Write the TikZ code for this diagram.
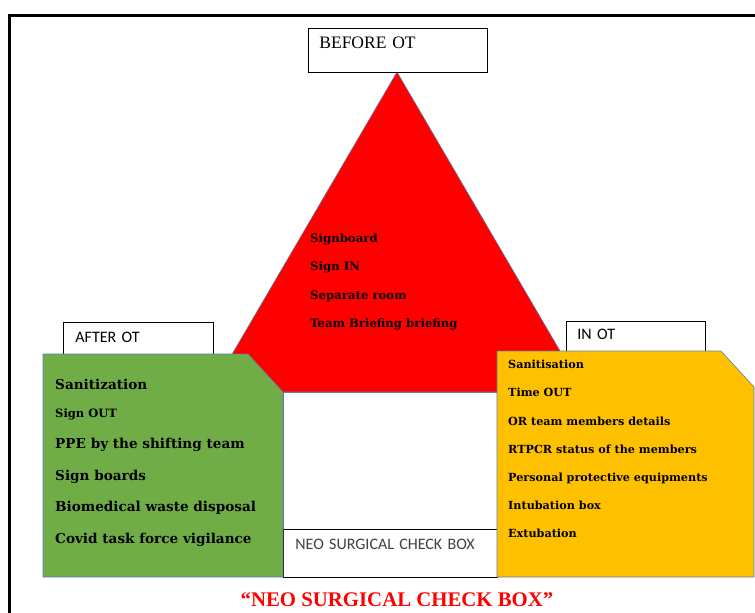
\documentclass[tikz,border=0pt]{standalone}
\usepackage{fontspec}
\setmainfont{Liberation Serif}
\newfontfamily\itemfont{DejaVu Serif}
\newfontfamily\calibri{Carlito}
\usetikzlibrary{positioning}
\definecolor{otred}{HTML}{FF0000}
\definecolor{otgreen}{HTML}{70AD47}
\definecolor{otyellow}{HTML}{FFC000}
\definecolor{otedge}{HTML}{5B7FA6}
\definecolor{otgrey}{HTML}{404040}

\begin{document}
\begin{tikzpicture}[x=1pt,y=-1pt,
  labelbox/.style={draw=black, fill=white, line width=0.8pt, anchor=north west,
    inner ysep=0pt, align=left},
  item/.style={anchor=base west, inner sep=0pt, font=\itemfont\bfseries\fontsize{#1}{#1}\selectfont},
  item/.default=11.7,
  shapeedge/.style={draw=otedge, line width=0.6pt}]
  \useasboundingbox (0,0) rectangle (755,613);
  \clip (0,0) rectangle (755,613);

  % Cornice
  \draw[line width=3pt] (9,640) -- (9,15) -- (790,15);

  % Triangolo e riquadro centrale
  \coordinate (apex) at (397,72);
  \coordinate (baseL) at (210,392);
  \coordinate (baseR) at (584,392);
  \filldraw[shapeedge, fill=otred] (apex) -- (baseR) -- (baseL) -- cycle;
  \filldraw[shapeedge, fill=white] (283,392) rectangle (497,577);

  % Etichette
  \node[labelbox, font=\rmfamily\fontsize{17.5}{17.5}\selectfont, inner xsep=11pt, text width=157pt,
    text height=20pt, text depth=24pt] (before) at (308,28) {BEFORE OT};
  \node[labelbox, font=\calibri\fontsize{16}{16}\selectfont, inner xsep=12pt, text width=126pt,
    text height=20pt, text depth=16pt] (after) at (63,322) {AFTER OT};
  \node[labelbox, font=\calibri\fontsize{16}{16}\selectfont, inner xsep=11pt, text width=117pt,
    text height=18pt, text depth=12pt] (inot) at (566,321) {IN OT};
  \node[labelbox, font=\calibri\fontsize{16}{16}\selectfont, text=otgrey, inner xsep=12pt,
    text width=190pt, text height=20pt, text depth=28pt] (neo) at (283,529) {NEO SURGICAL CHECK BOX};

  % Riquadri verde e giallo
  \filldraw[shapeedge, fill=otgreen]
    (43,354) -- (248,354) -- (283,392) -- (283,577) -- (43,577) -- cycle;
  \filldraw[shapeedge, fill=otyellow]
    (497,351) -- (721,351) -- (754,387) -- (754,577) -- (497,577) -- cycle;

  % Prima dell'OT
  \node[item] (signboard) at (310,242) {Signboard};
  \node[item] (signin) at (310,270) {Sign IN};
  \node[item] (room) at (310,299) {Separate room};
  \node[item] (briefing) at (310,327) {Team Briefing briefing};

  % Dopo l'OT
  \node[item=13.6] (sanitization) at (55,389) {Sanitization};
  \node[item=11.5] (signout) at (55,417) {Sign OUT};
  \node[item=13.6] (ppe) at (55,448) {PPE by the shifting team};
  \node[item=13.6] (boards) at (55,480) {Sign boards};
  \node[item=13.6] (waste) at (55,511) {Biomedical waste disposal};
  \node[item=13.6] (covid) at (55,543) {Covid task force vigilance};

  % Durante l'OT
  \node[item=11.2] (sanitisation) at (508,368) {Sanitisation};
  \node[item=11.2] (timeout) at (508,396) {Time OUT};
  \node[item=11.2] (team) at (508,425) {OR team members details};
  \node[item=11.2] (rtpcr) at (508,453) {RTPCR status of the members};
  \node[item=11.2] (ppeq) at (508,481) {Personal protective equipments};
  \node[item=11.2] (intubation) at (508,509) {Intubation box};
  \node[item=11.2] (extubation) at (508,537) {Extubation};

  % Titolo
  \node[anchor=base, inner sep=0pt, text=otred, font=\bfseries\fontsize{20.8}{20.8}\selectfont]
    (title) at (397,606) {“NEO SURGICAL CHECK BOX”};
\end{tikzpicture}
\end{document}
